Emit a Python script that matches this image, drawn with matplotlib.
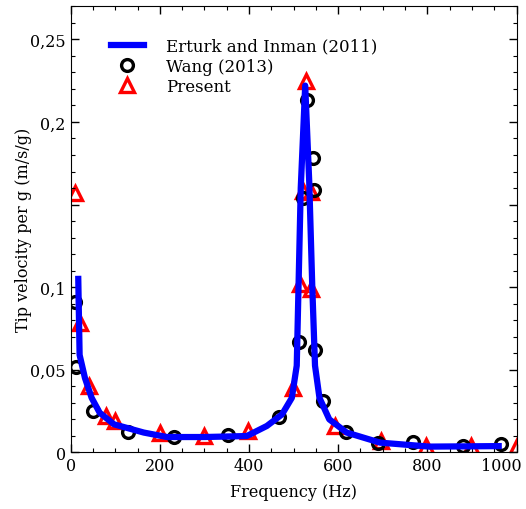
import numpy as np
import matplotlib
matplotlib.use("Agg")
import matplotlib.pyplot as plt
from matplotlib.ticker import MultipleLocator
import matplotlib.transforms as mtransforms

plt.rcParams['font.family'] = 'DejaVu Serif'

# Erturk and Inman (2011) - line
f_erturk = [17, 20, 32, 47, 65, 97, 164, 216, 300, 395, 440, 474, 496, 507,
            516, 526, 535, 542, 548, 558, 580, 619, 694, 805, 960]
v_erturk = [0.105, 0.059, 0.045, 0.033, 0.024, 0.017, 0.012, 0.0093, 0.0093,
            0.0099, 0.016, 0.023, 0.033, 0.0525, 0.16, 0.222, 0.164, 0.099,
            0.0525, 0.033, 0.020, 0.012, 0.0059, 0.0035, 0.0038]

# Wang (2013) - circles
f_wang = [10, 12, 51, 129, 231, 352, 467, 513, 520, 530, 543, 546, 549, 566,
          617, 690, 767, 879, 965]
v_wang = [0.091, 0.0516, 0.0253, 0.0125, 0.0091, 0.0107, 0.0216, 0.0668,
          0.154, 0.213, 0.178, 0.159, 0.062, 0.0314, 0.0121, 0.0056, 0.0065,
          0.0037, 0.005]

# Present - triangles
f_present = [10, 21, 40, 79, 99, 200, 299, 398, 499, 514, 520, 527, 538, 540,
             592, 697, 797, 898, 1000]
v_present = [0.157, 0.0785, 0.040, 0.0222, 0.0192, 0.0115, 0.0101, 0.0131,
             0.0389, 0.102, 0.158, 0.2247, 0.1575, 0.0988, 0.0162, 0.0071,
             0.004, 0.004, 0.004]

yticks = [0, 0.05, 0.1, 0.15, 0.2, 0.25]
ytick_labels = ['0', '0,05', '0,1', '', '0,2', '0,25']
xticks = [0, 200, 400, 600, 800, 1000]

fig = plt.figure(figsize=(5.26, 5.10), dpi=100)
ax = fig.add_axes([0.1344, 0.111, 0.8476, 0.8747])

ax.plot(f_erturk, v_erturk, color='#0000ff', lw=4.5, label='Erturk and Inman (2011)', zorder=3)
ax.plot(f_wang, v_wang, 'o', mfc='none', mec='black', mew=2.4, ms=8.5, label='Wang (2013)', zorder=2)
ax.plot(f_present, v_present, '^', mfc='none', mec='red', mew=2.4, ms=9.5, label='Present', zorder=1)

ax.set_xlim(0, 1000)
ax.set_ylim(0, 0.27)
ax.set_xticks(xticks)
ax.set_yticks(yticks)
ax.set_yticklabels(ytick_labels)
ax.xaxis.set_minor_locator(MultipleLocator(50))
ax.yaxis.set_minor_locator(MultipleLocator(0.01))
ax.tick_params(which='both', direction='in', top=True, right=True, labelsize=11.5)
ax.tick_params(which='major', length=6, width=1)
ax.tick_params(which='minor', length=3, width=0.8)

# shift the last x label left so it stays inside the figure
lab = ax.get_xticklabels()[-1]
lab.set_transform(lab.get_transform() + mtransforms.ScaledTranslation(-0.15, 0, fig.dpi_scale_trans))

ax.set_xlabel('Frequency (Hz)', fontsize=11.5, labelpad=6)
ax.set_ylabel('Tip velocity per g (m/s/g)', fontsize=11.5, labelpad=-1.5)

ax.legend(loc='upper left', bbox_to_anchor=(0.075, 0.945), frameon=False, fontsize=12,
          handlelength=2.0, handletextpad=1.3, labelspacing=0.2, borderaxespad=0)

fig.savefig('out.png', dpi=100)
